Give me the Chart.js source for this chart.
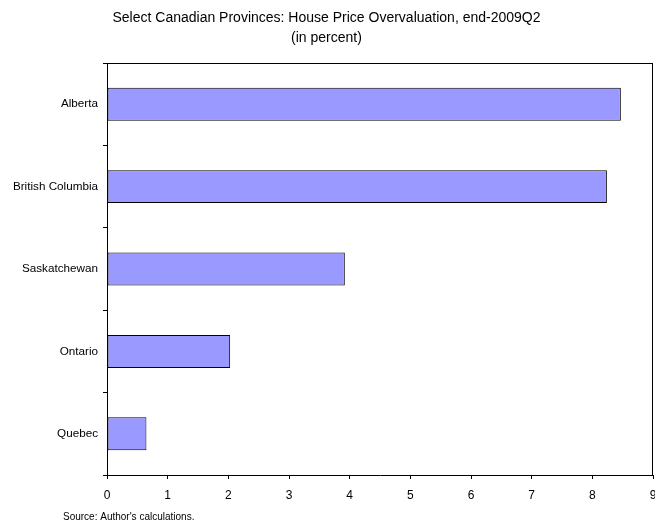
<!DOCTYPE html>
<html>
<head>
<meta charset="utf-8">
<script src="https://cdn.jsdelivr.net/npm/chart.js@4"></script>
<style>
  html, body { margin: 0; padding: 0; background: #ffffff; }
  #wrap { width: 655px; height: 525px; }
</style>
</head>
<body>
<div id="wrap"><canvas id="c" width="655" height="525"></canvas></div>
<script>
const categories = ["Alberta", "British Columbia", "Saskatchewan", "Ontario", "Quebec"];
const values = [8.47, 8.24, 3.92, 2.03, 0.65];
const xTickValues = [0, 1, 2, 3, 4, 5, 6, 7, 8, 9];
const titleLines = ["Select Canadian Provinces: House Price Overvaluation, end-2009Q2", "(in percent)"];
const sourceNote = "Source: Author's calculations.";

const FONT = "'Liberation Sans', Arial, sans-serif";

const framePlugin = {
  id: 'frame',
  afterDraw(chart) {
    const { ctx, chartArea: a } = chart;
    ctx.save();
    ctx.strokeStyle = '#000';
    ctx.lineWidth = 1;
    ctx.beginPath();
    ctx.moveTo(a.left, Math.round(a.top) + 0.5);
    ctx.lineTo(a.right, Math.round(a.top) + 0.5);
    ctx.moveTo(Math.round(a.right) - 0.5, a.top);
    ctx.lineTo(Math.round(a.right) - 0.5, a.bottom);
    ctx.stroke();
    ctx.fillStyle = '#000';
    ctx.font = "10px " + FONT;
    ctx.textBaseline = 'middle';
    ctx.textAlign = 'left';
    ctx.fillText(sourceNote, 63, 517);
    ctx.restore();
  }
};

new Chart(document.getElementById('c'), {
  type: 'bar',
  data: {
    labels: categories,
    datasets: [{
      data: values,
      backgroundColor: '#9999FF',
      borderColor: '#000000',
      borderWidth: 1,
      borderSkipped: false,
      categoryPercentage: 1.0,
      barPercentage: 0.4
    }]
  },
  options: {
    indexAxis: 'y',
    responsive: false,
    animation: false,
    devicePixelRatio: 1,
    layout: { padding: { left: 0, right: 2, top: 0, bottom: 20 } },
    plugins: {
      legend: { display: false },
      tooltip: { enabled: false },
      title: {
        display: true,
        text: titleLines,
        color: '#000',
        font: { family: FONT, size: 14, weight: 'normal', lineHeight: 1.43 },
        padding: { top: 8, bottom: 15 }
      }
    },
    scales: {
      x: {
        type: 'linear',
        min: 0,
        max: 9,
        afterBuildTicks(axis) { axis.ticks = xTickValues.map(v => ({ value: v })); },
        afterFit(axis) { axis.height = 30; axis.paddingLeft = 0; axis.paddingRight = 0; },
        border: { display: true, color: '#000', width: 1 },
        grid: { display: true, drawOnChartArea: false, drawTicks: true, tickLength: 4, color: '#000' },
        ticks: { color: '#000', padding: 9.8, font: { family: FONT, size: 12 }, maxRotation: 0, autoSkip: false }
      },
      y: {
        type: 'category',
        afterFit(axis) { axis.width = 107; axis.paddingTop = 0; axis.paddingBottom = 0; },
        border: { display: true, color: '#000', width: 1 },
        grid: { display: true, drawOnChartArea: false, drawTicks: true, tickLength: 4, color: '#000', offset: true },
        ticks: { color: '#000', padding: 5, font: { family: FONT, size: 11.7 } }
      }
    }
  },
  plugins: [framePlugin]
});
</script>
</body>
</html>
